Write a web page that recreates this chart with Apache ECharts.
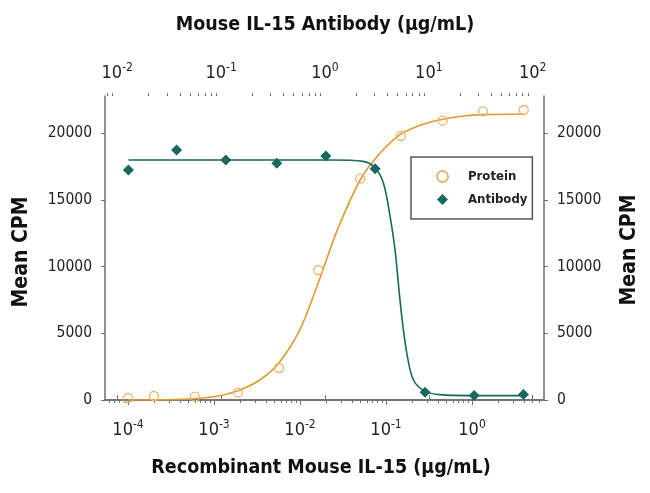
<!DOCTYPE html>
<html><head><meta charset="utf-8">
<script src="https://cdn.jsdelivr.net/npm/echarts@6/dist/echarts.min.js"></script>
<style>html,body{margin:0;padding:0;background:#fff}#c{width:650px;height:493px}</style>
</head><body><div id="c"></div>
<script>
// ---- data ----
const proteinConc = [1.0e-4, 2.0e-4, 6.0e-4, 1.9e-3, 5.7e-3, 0.0163, 0.050, 0.149, 0.455, 1.34, 3.99];
const proteinCPM  = [150, 300, 250, 550, 2400, 9750, 16600, 19800, 20950, 21650, 21750];
const antibodyConc = [0.0128, 0.0373, 0.111, 0.344, 1.02, 3.04, 9.2, 27.3, 81.5];
const antibodyCPM  = [17250, 18750, 18000, 17750, 18300, 17350, 580, 330, 420];
// fitted curves
const proteinFitConc = [1e-4, 4e-4, 1e-3, 1.9e-3, 3.4e-3, 5.7e-3, 0.01, 0.0163, 0.027, 0.05, 0.085, 0.146, 0.25, 0.455, 0.8, 1.34, 4.0];
const proteinFitCPM  = [0, 50, 250, 700, 1500, 2800, 5300, 8800, 12700, 16500, 18500, 19900, 20600, 21050, 21300, 21400, 21450];
const antibodyFitConc = [0.0128, 0.1, 0.5, 1.12, 2.34, 3.04, 3.66, 4.24, 4.73, 5.09, 5.49, 6.14, 7.11, 9.2, 12.8, 27.3, 81.5];
const antibodyFitCPM  = [18000, 18000, 18000, 18000, 17900, 17400, 16250, 13750, 11250, 8750, 6250, 3500, 1500, 650, 400, 330, 330];
// axis ticks
const bottomDecades = [1e-4, 1e-3, 1e-2, 1e-1, 1];
const topDecades = [1e-2, 1e-1, 1, 10, 100];
const yTicks = [0, 5000, 10000, 15000, 20000];
const bottomRange = [Math.pow(10, -4.268), Math.pow(10, 0.837)];
const topRange = [Math.pow(10, -2.118), Math.pow(10, 2.109)];
const yMax = 22800;

function minorTicks(range) {
  const out = [];
  for (let e = -6; e <= 3; e++) for (let m = 2; m <= 9; m++) {
    const v = m * Math.pow(10, e);
    if (v >= range[0] && v <= range[1]) out.push(v);
  }
  return out;
}
const zip = (a, b) => a.map((v, i) => [v, b[i]]);

const FONT = '"Liberation Sans Narrow","DejaVu Sans Condensed","Open Sans",sans-serif';
const AX = '#6e6e6e';
const ORANGE = '#e39a2d';
const ORANGE_PT = '#e9b46a';
const TEAL = '#16695d';

const powRich = {
  b: {fontFamily: FONT, fontSize: 18, color: '#222', lineHeight: 22},
  s: {fontFamily: FONT, fontSize: 12, color: '#222', lineHeight: 22, verticalAlign: 'top', padding: [0, 0, 9, 0]}
};
const powFmt = v => '{b|10}{s|' + Math.round(Math.log10(v)) + '}';

function majorX(pos, range, decades, margin) {
  return {
    gridIndex: 0, type: 'log', position: pos, min: range[0], max: range[1],
    axisLine: {show: true, lineStyle: {color: AX, width: 1.5}},
    axisTick: {show: true, length: 5, customValues: decades, lineStyle: {color: AX, width: 1}},
    axisLabel: {show: true, customValues: decades, formatter: powFmt, rich: powRich, margin: margin},
    splitLine: {show: false}, minorTick: {show: false}
  };
}
function minorX(pos, range) {
  return {
    gridIndex: 1, type: 'log', position: pos, min: range[0], max: range[1],
    axisLine: {show: false},
    axisTick: {show: true, length: 3, customValues: minorTicks(range), lineStyle: {color: AX, width: 1}},
    axisLabel: {show: false}, splitLine: {show: false}
  };
}
function yAx(pos) {
  return {
    gridIndex: 0, type: 'value', position: pos, min: 0, max: yMax,
    axisLine: {show: true, lineStyle: {color: AX, width: 1.5}},
    axisTick: {show: true, length: 4, customValues: yTicks, lineStyle: {color: AX}},
    axisLabel: {show: true, customValues: yTicks, formatter: v => String(v), fontFamily: FONT, fontSize: 15.5, color: '#222', margin: 13},
    splitLine: {show: false}
  };
}

const gridRect = {left: 105, right: 106, top: 96, bottom: 93};
const option = {
  backgroundColor: '#fff',
  animation: false,
  grid: [Object.assign({}, gridRect), Object.assign({}, gridRect)],
  xAxis: [
    majorX('bottom', bottomRange, bottomDecades, 19),
    majorX('top', topRange, topDecades, 12),
    minorX('bottom', bottomRange),
    minorX('top', topRange)
  ],
  yAxis: [yAx('left'), yAx('right'), {gridIndex: 1, type: 'value', min: 0, max: yMax, show: false}],
  legend: {
    data: ['Protein', 'Antibody'], orient: 'vertical', left: 411, top: 157,
    padding: [13, 5, 13, 25], itemGap: 10, itemWidth: 11, itemHeight: 11,
    borderColor: '#555', borderWidth: 1.5, borderRadius: 0,
    textStyle: {fontFamily: FONT, fontSize: 13, fontWeight: 'bold', color: '#222', padding: [0, 0, 0, 15]}
  },
  graphic: [
    {type: 'text', x: 325, y: 25, style: {text: 'Mouse IL-15 Antibody (\u03bcg/mL)', font: 'bold 19.5px ' + FONT, fill: '#111', textAlign: 'center', textVerticalAlign: 'middle'}},
    {type: 'text', x: 321, y: 468, style: {text: 'Recombinant Mouse IL-15 (\u03bcg/mL)', font: 'bold 19.5px ' + FONT, fill: '#111', textAlign: 'center', textVerticalAlign: 'middle'}},
    {type: 'text', x: 22, y: 252, rotation: Math.PI / 2, style: {text: 'Mean CPM', font: 'bold 21px ' + FONT, fill: '#111', textAlign: 'center', textVerticalAlign: 'middle'}},
    {type: 'text', x: 630, y: 250, rotation: Math.PI / 2, style: {text: 'Mean CPM', font: 'bold 21px ' + FONT, fill: '#111', textAlign: 'center', textVerticalAlign: 'middle'}}
  ],
  series: [
    {type: 'line', name: 'ProteinFit', xAxisIndex: 0, yAxisIndex: 0, data: zip(proteinFitConc, proteinFitCPM),
     showSymbol: false, symbol: 'none', smooth: 0.3, lineStyle: {color: ORANGE, width: 1.6}, z: 2},
    {type: 'line', name: 'AntibodyFit', xAxisIndex: 1, yAxisIndex: 0, data: zip(antibodyFitConc, antibodyFitCPM),
     showSymbol: false, symbol: 'none', smooth: 0.3, lineStyle: {color: TEAL, width: 1.6}, z: 2},
    {type: 'scatter', name: 'Protein', xAxisIndex: 0, yAxisIndex: 0, data: zip(proteinConc, proteinCPM),
     symbol: 'circle', symbolSize: 9, itemStyle: {color: 'rgba(255,255,255,0)', borderColor: ORANGE_PT, borderWidth: 1.3, opacity: 1}, z: 3},
    {type: 'scatter', name: 'Antibody', xAxisIndex: 1, yAxisIndex: 0, data: zip(antibodyConc, antibodyCPM),
     symbol: 'diamond', symbolSize: 11, itemStyle: {color: TEAL, opacity: 1}, z: 3}
  ]
};
const chart = echarts.init(document.getElementById('c'), null, {renderer: 'canvas'});
chart.setOption(option);
</script>
</body></html>
